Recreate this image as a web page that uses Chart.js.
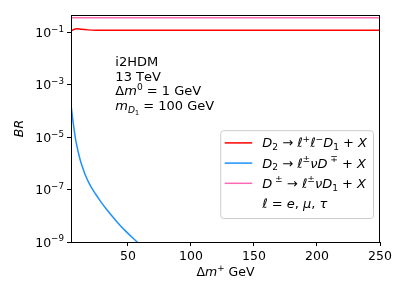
<!DOCTYPE html>
<html>
<head>
<meta charset="utf-8">
<script src="https://cdn.jsdelivr.net/npm/chart.js@4.4.1/dist/chart.umd.min.js"></script>
<style>
  html, body { margin: 0; padding: 0; background: #fff; }
  canvas { display: block; }
</style>
</head>
<body>
<canvas id="chart" width="407" height="296"></canvas>
<script>
/* global Chart */

const FONT = "DejaVu Sans";

// D2 -> l+ l- D1 + X
const X_D2_LLD1 = [5, 7, 9.5, 13, 18, 25, 50, 100, 150, 200, 250];
const BR_D2_LLD1 = [0.115, 0.132, 0.14, 0.133, 0.127, 0.124, 0.123, 0.123, 0.123, 0.123, 0.123];

// D2 -> l nu D-+ + X
const X_D2_LNUD = [5, 5.5, 6.5, 8.2, 9.5, 10.8, 12.5, 14.75, 16.5, 18.7, 21.5, 24.3, 27, 30, 33, 36.5, 40, 44, 48, 53, 58];
const BR_D2_LNUD = [1.45e-4, 9.3e-5, 3.7e-5, 9.8e-6, 4.6e-6, 2.4e-6, 1.17e-6, 5.6e-7, 3.3e-7, 1.95e-7, 1.1e-7, 6.8e-8, 4.37e-8, 2.75e-8, 1.78e-8, 1.1e-8, 6.9e-9, 4.2e-9, 2.66e-9, 1.55e-9, 9.3e-10];

// D+- -> l nu D1 + X
const X_DPM_LNUD1 = [5, 250];
const BR_DPM_LNUD1 = [0.37, 0.37];

// labels use a tiny markup: *..* italic, _x / ^x sub/superscript, {..} groups
const SERIES_LABELS = [
  "*D*_2 → *ℓ*^+*ℓ*^−*D*_1 + *X*",
  "*D*_2 → *ℓ*^±*νD*^{ ∓} + *X*",
  "*D*^{ ±} → *ℓ*^±*νD*_1 + *X*"
];
const SERIES_COLORS = ["#ff0000", "#1e90ff", "#ff69b4"];
const LEGEND_EXTRA = "*ℓ* = *e*, *μ*, *τ*";

const NOTE_LINES = ["i2HDM", "13 TeV", "Δ*m*^0 = 1 GeV", "*m*_{*D*_1} = 100 GeV"];

const X_TICKS = [50, 100, 150, 200, 250];
const Y_TICKS = [1e-9, 1e-7, 1e-5, 1e-3, 1e-1];
const X_RANGE = [4.8, 250];
const Y_RANGE = [1e-9, 0.47];
const X_TITLE = "Δ*m*^+ GeV";
const Y_TITLE = "*BR*";

function richTokens(s, italic = false, shift = 0, scale = 1, out = []){
  let i = 0;
  while (i < s.length){
    const c = s[i];
    if (c === "*"){ italic = !italic; i++; continue; }
    if (c === "_" || c === "^"){
      i++;
      let grp;
      if (s[i] === "{"){
        let depth = 1, j = i + 1;
        while (depth){
          if (s[j] === "{") depth++;
          else if (s[j] === "}") depth--;
          j++;
        }
        grp = s.slice(i + 1, j - 1);
        i = j;
      } else {
        grp = s[i]; i++;
      }
      const sh = shift + (c === "_" ? 0.22 : -0.42) * scale;
      richTokens(grp, italic, sh, scale * 0.7, out);
      continue;
    }
    out.push({ t: c, italic, shift, scale });
    i++;
  }
  return out;
}

function tokFont(t, size){
  return `${t.italic ? "italic " : ""}${(size * t.scale).toFixed(2)}px "${FONT}"`;
}

function drawRich(ctx, s, x, y, size, align = "left", color = "#000"){
  const toks = richTokens(s);
  let w = 0;
  for (const t of toks){ ctx.font = tokFont(t, size); t.w = ctx.measureText(t.t).width; w += t.w; }
  let cx = align === "right" ? x - w : align === "center" ? x - w / 2 : x;
  ctx.save();
  ctx.fillStyle = color;
  ctx.textBaseline = "alphabetic";
  ctx.textAlign = "left";
  for (const t of toks){
    ctx.font = tokFont(t, size);
    ctx.fillText(t.t, cx, y + t.shift * size);
    cx += t.w;
  }
  ctx.restore();
  return w;
}

function richWidth(ctx, s, size){
  let w = 0;
  for (const t of richTokens(s)){ ctx.font = tokFont(t, size); w += ctx.measureText(t.t).width; }
  return w;
}

function toPoints(xs, ys){
  return xs.map((x, i) => ({ x, y: ys[i] }));
}

const extras = {
  id: "extras",
  afterDraw(chart){
    const { ctx, chartArea: a, scales } = chart;
    const xs = scales.x, ys = scales.y;

    // frame
    ctx.save();
    ctx.strokeStyle = "#000";
    ctx.lineWidth = 1;
    ctx.strokeRect(Math.round(a.left) + 0.5, Math.round(a.top) + 0.5,
      Math.round(a.right - a.left) - 1, Math.round(a.bottom - a.top));
    ctx.restore();

    // y tick labels 10^n
    for (const v of Y_TICKS){
      const e = Math.round(Math.log10(v));
      const txt = `10^{${e < 0 ? "−" : ""}${Math.abs(e)}}`;
      drawRich(ctx, txt, a.left - 7, ys.getPixelForValue(v) + 4.5, 12.5, "right");
    }

    // axis titles
    drawRich(ctx, X_TITLE, (a.left + a.right) / 2, 276, 12.5, "center");
    ctx.save();
    ctx.translate(23, (a.top + a.bottom) / 2);
    ctx.rotate(-Math.PI / 2);
    drawRich(ctx, Y_TITLE, 0, 0, 12.5, "center");
    ctx.restore();

    // annotation
    const nx = xs.getPixelForValue(40);
    NOTE_LINES.forEach((line, i) => {
      drawRich(ctx, line, nx, a.top + 51 + i * 14.7, 13);
    });

    // legend
    const rows = chart.data.datasets.map(d => ({ label: d.label, color: d.borderColor }));
    rows.push({ label: LEGEND_EXTRA, color: null });
    const rowH = 20.2;
    let maxW = 0;
    for (const r of rows) maxW = Math.max(maxW, richWidth(ctx, r.label, 13));
    const bw = 42 + maxW + 6;
    const bh = rows.length * rowH + 7;
    const bx = a.right - 7 - bw;
    const by = a.bottom - 24 - bh;
    ctx.save();
    ctx.beginPath();
    ctx.roundRect(bx + 0.5, by + 0.5, bw, bh, 3);
    ctx.fillStyle = "rgba(255,255,255,0.8)";
    ctx.fill();
    ctx.strokeStyle = "#cccccc";
    ctx.lineWidth = 1;
    ctx.stroke();
    ctx.restore();
    rows.forEach((r, i) => {
      const cy = by + 12.7 + i * rowH;
      if (r.color){
        ctx.save();
        ctx.strokeStyle = r.color;
        ctx.lineWidth = 1.5;
        ctx.beginPath();
        ctx.moveTo(bx + 4.5, cy);
        ctx.lineTo(bx + 32, cy);
        ctx.stroke();
        ctx.restore();
      }
      drawRich(ctx, r.label, bx + 42, cy + 4.5, 13);
    });
  }
};

function buildChart(){
  const ctx = document.getElementById("chart").getContext("2d");
  const sets = [
    toPoints(X_D2_LLD1, BR_D2_LLD1),
    toPoints(X_D2_LNUD, BR_D2_LNUD),
    toPoints(X_DPM_LNUD1, BR_DPM_LNUD1)
  ];
  return new Chart(ctx, {
    type: "line",
    data: {
      datasets: sets.map((data, i) => ({
        label: SERIES_LABELS[i],
        data,
        borderColor: SERIES_COLORS[i],
        backgroundColor: SERIES_COLORS[i],
        borderWidth: 1.5,
        pointRadius: 0,
        tension: 0.3,
        fill: false
      }))
    },
    options: {
      responsive: false,
      animation: false,
      devicePixelRatio: 1,
      layout: { padding: { top: 15, right: 27, left: 0, bottom: 0 } },
      plugins: { legend: { display: false }, tooltip: { enabled: false } },
      scales: {
        x: {
          type: "linear",
          min: X_RANGE[0],
          max: X_RANGE[1],
          afterBuildTicks: s => { s.ticks = X_TICKS.map(v => ({ value: v })); },
          afterFit: s => { s.height = 54; },
          grid: { drawOnChartArea: false, tickLength: 4, color: "#000" },
          border: { display: false },
          ticks: {
            color: "#000",
            font: { family: FONT, size: 12.5 },
            padding: 3,
            maxRotation: 0,
            callback: v => String(v)
          }
        },
        y: {
          type: "logarithmic",
          min: Y_RANGE[0],
          max: Y_RANGE[1],
          afterBuildTicks: s => { s.ticks = Y_TICKS.map(v => ({ value: v })); },
          afterFit: s => { s.width = 71; },
          grid: { drawOnChartArea: false, tickLength: 4, color: "#000" },
          border: { display: false },
          ticks: { display: true, callback: () => "", font: { family: FONT, size: 12 } }
        }
      }
    },
    plugins: [extras]
  });
}

buildChart();
</script>
</body>
</html>
